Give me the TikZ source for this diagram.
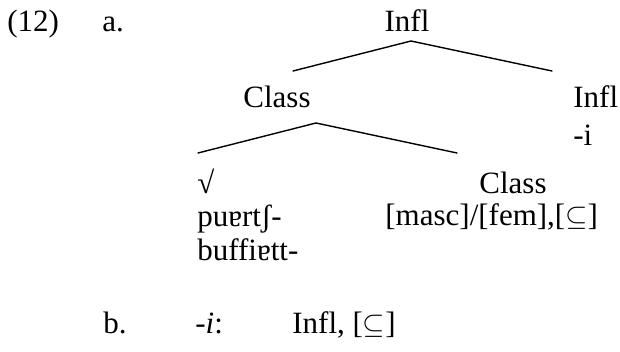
\documentclass[tikz,border=0pt]{standalone}
\usepackage{fontspec}
\setmainfont{Liberation Serif}

\begin{document}
\begin{tikzpicture}[x={0.5pt},y={-0.5pt}]

\tikzstyle{word}=[inner sep={0pt},font={\fontsize{15.5}{18}\selectfont}]
\tikzstyle{branch}=[line width={0.7pt},line cap={round}]

\useasboundingbox (0,0) rectangle (620,352) ;

% example (12a): labels

\node at (7,32)   [word,anchor={base west}] (Num) {(12)} ;
\node at (102,32) [word,anchor={base west}] (A)   {a.} ;

% tree: nodes

\node at (407,32)  [word,anchor={base}]      (InflTop)   {Infl} ;
\node at (277,108) [word,anchor={base}]      (ClassMid)  {Class} ;
\node at (573,108) [word,anchor={base west}] (InflLeaf)  {Infl} ;
\node at (573,146) [word,anchor={base west}] (Affix)     {-i} ;
\node at (197,193) [word,anchor={base west}] (Root)      {√} ;
\node at (197,227) [word,anchor={base west}] (RootA)     {puɐrtʃ-} ;
\node at (197,260) [word,anchor={base west}] (RootB)     {buffiɐtt-} ;
\node at (513,193) [word,anchor={base}]      (ClassLeaf) {Class} ;
\node at (385,226) [word,anchor={base west}] (Feat)      {[masc]/[fem],[\ensuremath{\subseteq}]} ;

% tree: branch points

\coordinate (TopFork)   at (411,41) ;
\coordinate (TopLeft)   at (293,71) ;
\coordinate (TopRight)  at (552,71) ;
\coordinate (MidFork)   at (316,123) ;
\coordinate (MidLeft)   at (198,153) ;
\coordinate (MidRight)  at (457,153) ;

% tree: branches

\draw [branch] (TopLeft) -- (TopFork) -- (TopRight) ;
\draw [branch] (MidLeft) -- (MidFork) -- (MidRight) ;

% example (12b)

\node at (103,333) [word,anchor={base west}] (B)     {b.} ;
\node at (195,333) [word,anchor={base west}] (Exp)   {-\textit{i}:} ;
\node at (292,333) [word,anchor={base west}] (Entry) {Infl, [\ensuremath{\subseteq}]} ;

\end{tikzpicture}
\end{document}
